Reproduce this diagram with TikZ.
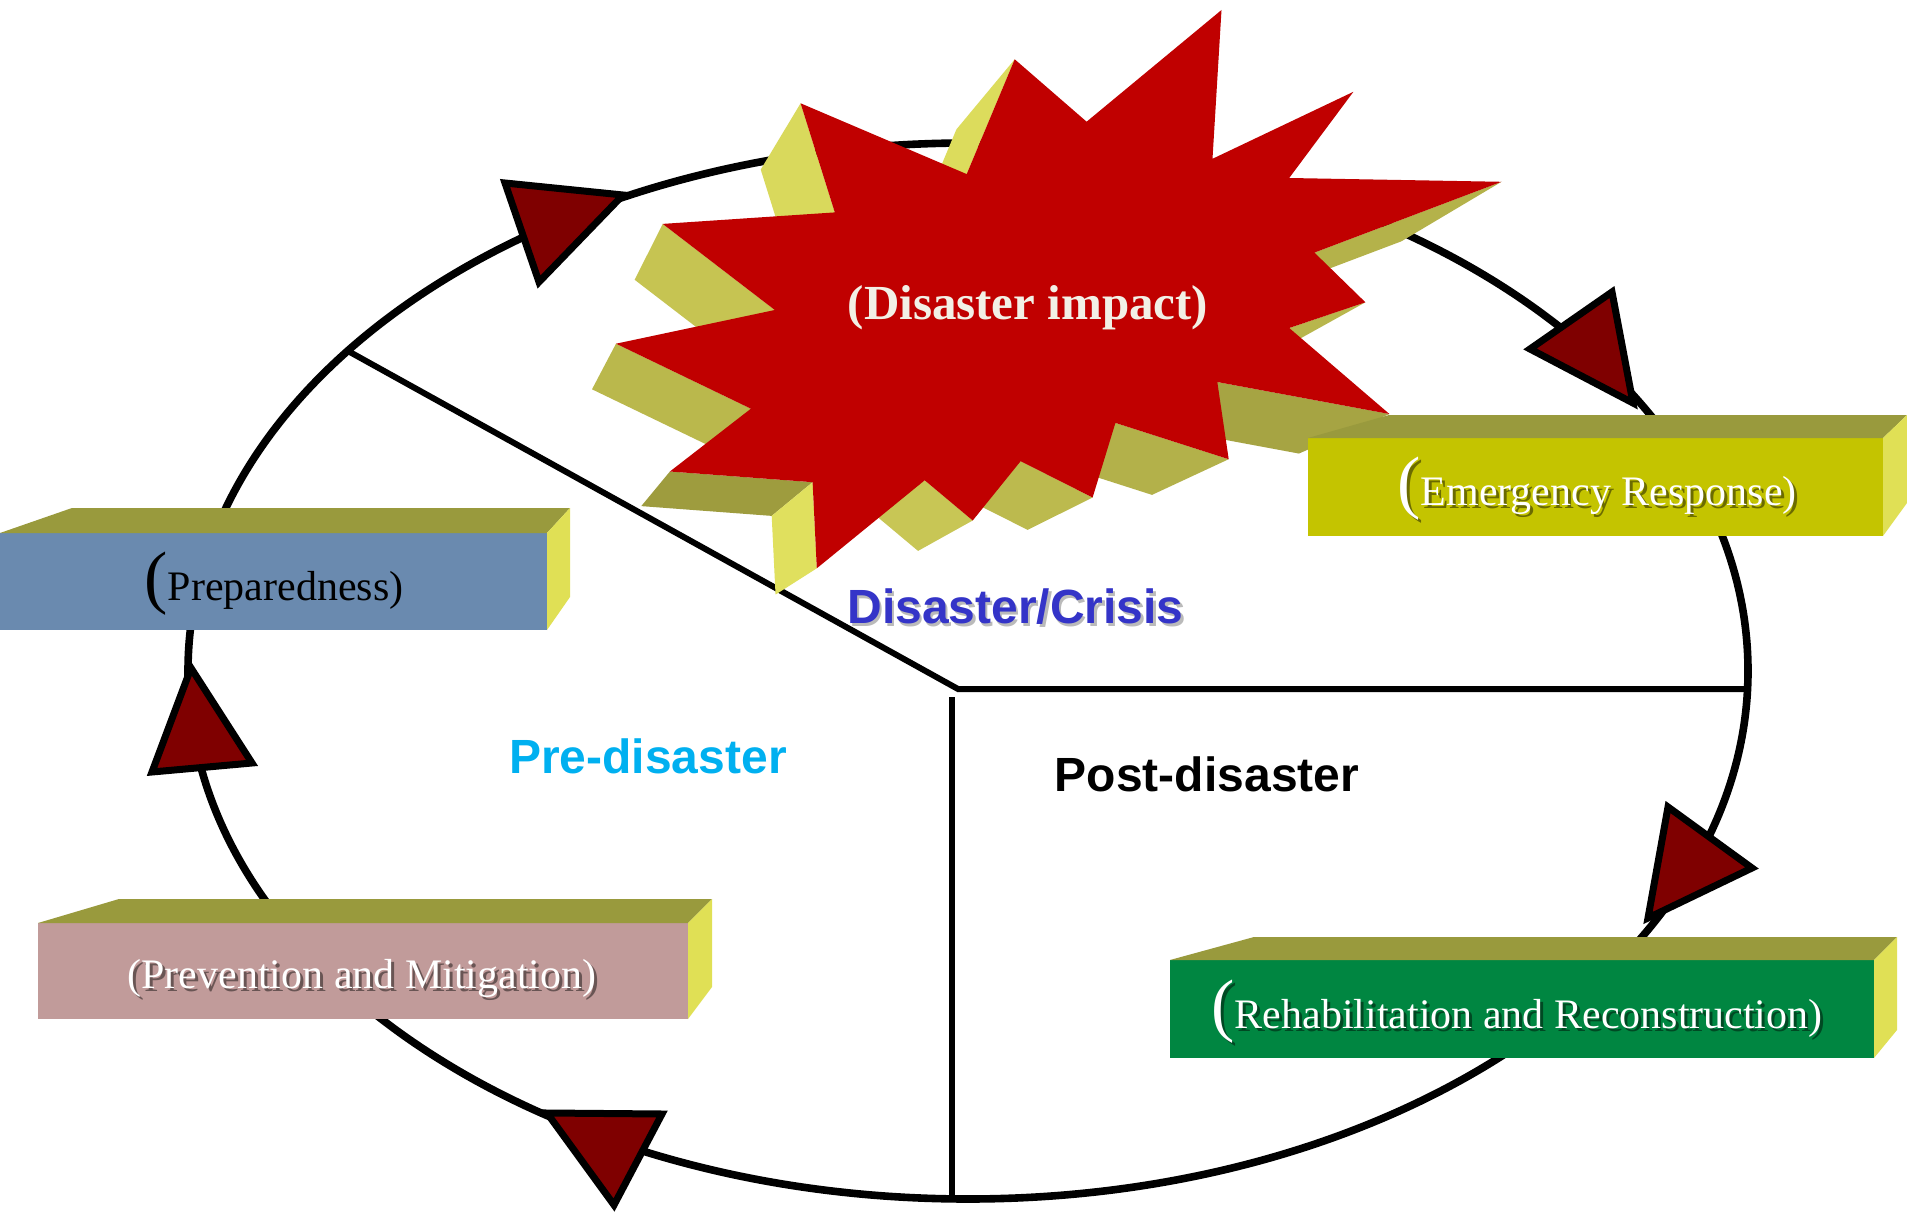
\documentclass[tikz,border=0pt]{standalone}
\usepackage{fontspec}
\setmainfont{Liberation Serif}
\newfontfamily\arialfont{Liberation Sans}
\usetikzlibrary{calc}
\definecolor{topc}{HTML}{999A3D}
\definecolor{sidec}{HTML}{E0E055}
\definecolor{prepc}{HTML}{6A8AAF}
\definecolor{emerc}{HTML}{C4C400}
\definecolor{rehabc}{HTML}{008641}
\definecolor{prevc}{HTML}{C19B9A}
\definecolor{arrowc}{HTML}{7F0000}
\definecolor{starc}{HTML}{C00000}
\definecolor{impactc}{HTML}{F2F0E6}
\definecolor{crisisc}{HTML}{3434C8}
\definecolor{prec}{HTML}{00B0F0}
\definecolor{fA}{HTML}{B4B24A}
\definecolor{fB}{HTML}{B8B64C}
\definecolor{fC}{HTML}{A6A443}
\definecolor{fD}{HTML}{B3B14A}
\definecolor{fE}{HTML}{BCBA4E}
\definecolor{fF}{HTML}{C8C655}
\definecolor{fG}{HTML}{E0E05E}
\definecolor{fH}{HTML}{9E9C3E}
\definecolor{fI}{HTML}{BAB84C}
\definecolor{fJ}{HTML}{C6C452}
\definecolor{fK}{HTML}{D9D95C}
\definecolor{fL}{HTML}{DCDC5C}
\newcommand\dBig{\fontsize{35}{35}\selectfont}
\newcommand\dNorm{\fontsize{21}{25}\selectfont}
\begin{document}
\begin{tikzpicture}[x=0.5pt,y=-0.5pt,
  cycleline/.style={line width=3.8pt, draw=black},
  divline/.style={line width=3pt, draw=black},
  arrowtri/.style={draw=black, fill=arrowc, line width=3.5pt, line join=miter},
  boxtext/.style={anchor=base, inner sep=0pt, font=\dNorm},
  shadowtext/.style={anchor=base, inner sep=0pt, font=\dNorm, text=black, text opacity=0.45},
  labeltext/.style={anchor=base, inner sep=0pt, font=\arialfont\bfseries\fontsize{24}{28}\selectfont},
  topface/.style={fill=topc},
  sideface/.style={fill=sidec},
]
\useasboundingbox (0,0) rectangle (1907,1214);
\fill[white] (0,0) rectangle (1907,1214);

% ---- cycle ellipse ----
\coordinate (EC) at (968,671);
\draw[cycleline] (EC) ellipse [x radius=780, y radius=528];

% ---- dividing lines ----
\coordinate (DL) at (348,351);
\coordinate (J) at (958,689);
\coordinate (HR) at (1747,689);
\coordinate (VT) at (952,697);
\coordinate (VB) at (952,1199);
\draw[divline, line join=miter] (DL) -- (J) -- (HR);
\draw[divline] (VT) -- (VB);

% ---- arrowheads ----
\coordinate (T1a) at (505,183); \coordinate (T1b) at (623,195); \coordinate (T1c) at (539,282);
\coordinate (T2a) at (1612,292); \coordinate (T2b) at (1530,349); \coordinate (T2c) at (1633,403);
\coordinate (T3a) at (1668,807); \coordinate (T3b) at (1752,868); \coordinate (T3c) at (1648,918);
\coordinate (T4a) at (547,1113); \coordinate (T4b) at (662,1114); \coordinate (T4c) at (614,1205);
\coordinate (T5a) at (191,668); \coordinate (T5b) at (252,763); \coordinate (T5c) at (152,772);
\foreach \t in {1,...,5} \draw[arrowtri] (T\t a) -- (T\t b) -- (T\t c) -- cycle;

% ---- starburst ----
\coordinate (VP) at (337,874);
\foreach \n/\x/\y in {1/1221.5/10, 2/1212.5/158.8, 3/1353.4/91.8, 4/1289.2/178,
  5/1501.5/181.8, 6/1314.4/252.6, 7/1365.4/302.3, 8/1289.2/328,
  9/1389.4/414, 10/1217.3/382, 11/1228.7/459.2, 12/1115.4/422.9,
  13/1092.6/497.5, 14/1020.6/461.2, 15/972.7/520.5, 16/924.7/480.3,
  17/816.8/568.3, 18/812.6/482.2, 19/669.9/471.5, 20/750.9/408.7,
  21/616/343.7, 22/774.8/310, 23/662.7/223.9, 24/834.8/212.4,
  25/800.6/103.3, 26/966.7/174.1, 27/1014.7/59.3, 28/1086.6/121.7}
  \coordinate (V\n) at (\x,\y);
\foreach \n in {1,...,28} \coordinate (B\n) at ($(VP)!0.914!(V\n)$);
\foreach \i/\j/\c in {5/6/fA, 7/8/fB, 9/10/fC, 11/12/fD, 13/14/fE, 15/16/fF,
  18/19/fH, 20/21/fI, 22/23/fJ, 24/25/fK, 26/27/fL, 17/18/fG}
  \fill[\c] (V\i) -- (V\j) -- (B\j) -- (B\i) -- cycle;
\fill[starc] (V1) \foreach \n in {2,...,28} { -- (V\n) } -- cycle;

% ---- 3D boxes ----
% Preparedness
\fill[prepc] (0,533) rectangle (547,630);
\fill[topface] (0,533) -- (72,508) -- (570,508) -- (547,533) -- cycle;
\fill[sideface] (547,533) -- (570,508) -- (570,597) -- (547,630) -- cycle;
% Emergency Response
\fill[emerc] (1308,438) rectangle (1883,536);
\fill[topface] (1308,438) -- (1389,415) -- (1907,415) -- (1883,438) -- cycle;
\fill[sideface] (1883,438) -- (1907,415) -- (1907,503) -- (1883,536) -- cycle;
% Rehabilitation
\fill[rehabc] (1170,960) rectangle (1874,1058);
\fill[topface] (1170,960) -- (1254,937) -- (1897,937) -- (1874,960) -- cycle;
\fill[sideface] (1874,960) -- (1897,937) -- (1897,1030) -- (1874,1058) -- cycle;
% Prevention
\fill[prevc] (38,923) rectangle (688,1019);
\fill[topface] (38,923) -- (119,899) -- (712,899) -- (688,923) -- cycle;
\fill[sideface] (688,923) -- (712,899) -- (712,987) -- (688,1019) -- cycle;

% ---- texts ----
\node[boxtext, text=black] (tprep) at (274,600) {{\dBig(}Preparedness)};

\node[shadowtext] (temersh) at (1600,508) {{\dBig(}Emergency Response)};
\node[boxtext, text=white] (temer) at (1597,505) {{\dBig(}Emergency Response)};

\node[shadowtext] (trehabsh) at (1520,1031) {{\dBig(}Rehabilitation and Reconstruction)};
\node[boxtext, text=white] (trehab) at (1517,1028) {{\dBig(}Rehabilitation and Reconstruction)};

\node[shadowtext] (tprevsh) at (365,991) {(Prevention and Mitigation)};
\node[boxtext, text=white] (tprev) at (362,988) {(Prevention and Mitigation)};

\node[anchor=base, inner sep=0pt, text=impactc, font=\fontsize{24.5}{28}\selectfont\bfseries] (timpact) at (1028,320) {(Disaster impact)};

\node[labeltext, text=black!45, text opacity=0.6] (tcrisissh) at (1018,626) {Disaster/Crisis};
\node[labeltext, text=crisisc] (tcrisis) at (1015.5,623) {Disaster/Crisis};
\node[labeltext, text=prec] (tpre) at (648,773) {Pre-disaster};
\node[labeltext, text=black] (tpost) at (1207,791) {Post-disaster};
\end{tikzpicture}
\end{document}
